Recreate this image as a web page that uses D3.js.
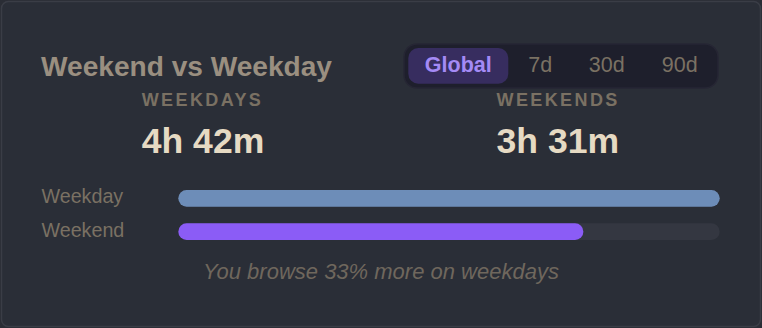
<!DOCTYPE html>
<html><head><meta charset="utf-8">
<script src="https://cdn.jsdelivr.net/npm/d3@7"></script>
<style>
html,body{margin:0;padding:0;background:#2a2d35;}
svg{display:block;font-family:"Liberation Sans",Arial,sans-serif;}
</style></head>
<body><svg id="c" width="762" height="328"></svg>
<script>
const title = "Weekend vs Weekday";
const ranges = ["Global","7d","30d","90d"];
const activeRange = "Global";
const categories = ["Weekday","Weekend"];
const summaryLabels = ["WEEKDAYS","WEEKENDS"];
const minutes = [282, 211]; // 4h 42m, 3h 31m
const barColors = ["#6d8db8","#8b5cf6"];

const fmt = m => `${Math.floor(m/60)}h ${m%60}m`;
const pct = Math.floor((minutes[0]-minutes[1])/minutes[1]*100);
const footer = `You browse ${pct}% more on weekdays`;

const svg = d3.select("#c");
svg.append("rect").attr("x",1.5).attr("y",1.5).attr("width",759).attr("height",325)
  .attr("rx",7).attr("fill","#2a2e37").attr("stroke","#3a3d46").attr("stroke-width",1.5);

svg.append("text").attr("x",41).attr("y",76).attr("fill","#9a8f80")
  .attr("font-size",28.1).attr("font-weight","bold").text(title);

// toggle
const tg = svg.append("g");
tg.append("rect").attr("x",404).attr("y",44).attr("width",314).attr("height",44).attr("rx",13)
  .attr("fill","#1e1f2c").attr("stroke","#262634").attr("stroke-width",1.5);
const btnW = [100,56,69,69];
let bx = 408.3;
ranges.forEach((r,i)=>{
  const active = r===activeRange;
  if(active) tg.append("rect").attr("x",bx).attr("y",48).attr("width",btnW[i]).attr("height",35.7).attr("rx",10).attr("fill","#372d5f");
  tg.append("text").attr("x",bx+btnW[i]/2).attr("y",72.3).attr("text-anchor","middle")
    .attr("font-size",21.5).attr("font-weight",active?"bold":"normal")
    .attr("fill",active?"#a48af5":"#7a7163").text(r);
  bx += btnW[i]+4;
});

// summaries
const sx = [141.7, 496.5];
summaryLabels.forEach((l,i)=>{
  svg.append("text").attr("x",sx[i]).attr("y",106).attr("fill","#7a7163")
    .attr("font-size",18).attr("font-weight","bold").attr("letter-spacing",2.4).text(l);
  svg.append("text").attr("x",sx[i]).attr("y",152.7).attr("fill","#e6dac3")
    .attr("font-size",35.6).attr("font-weight","bold").text(fmt(minutes[i]));
});

// bars
const x = d3.scaleLinear().domain([0, d3.max(minutes)]).range([178.3, 719.7]);
const y = d3.scaleBand().domain(categories).range([190, 240]).paddingInner(0.5);
const bh = y.bandwidth();
categories.forEach((c,i)=>{
  svg.append("text").attr("x",41.5).attr("y",y(c)+bh/2+5).attr("fill","#7a7163")
    .attr("font-size",19.7).text(c);
  svg.append("rect").attr("x",x(0)).attr("y",y(c)).attr("width",x.range()[1]-x(0)).attr("height",bh)
    .attr("rx",bh/2).attr("fill","#343741");
  svg.append("rect").attr("x",x(0)).attr("y",y(c)).attr("width",x(minutes[i])-x(0)).attr("height",bh)
    .attr("rx",bh/2).attr("fill",barColors[i]);
});

svg.append("text").attr("x",381).attr("y",279.3).attr("text-anchor","middle")
  .attr("fill","#6f675d").attr("font-size",22).attr("font-style","italic").text(footer);
</script></body></html>
